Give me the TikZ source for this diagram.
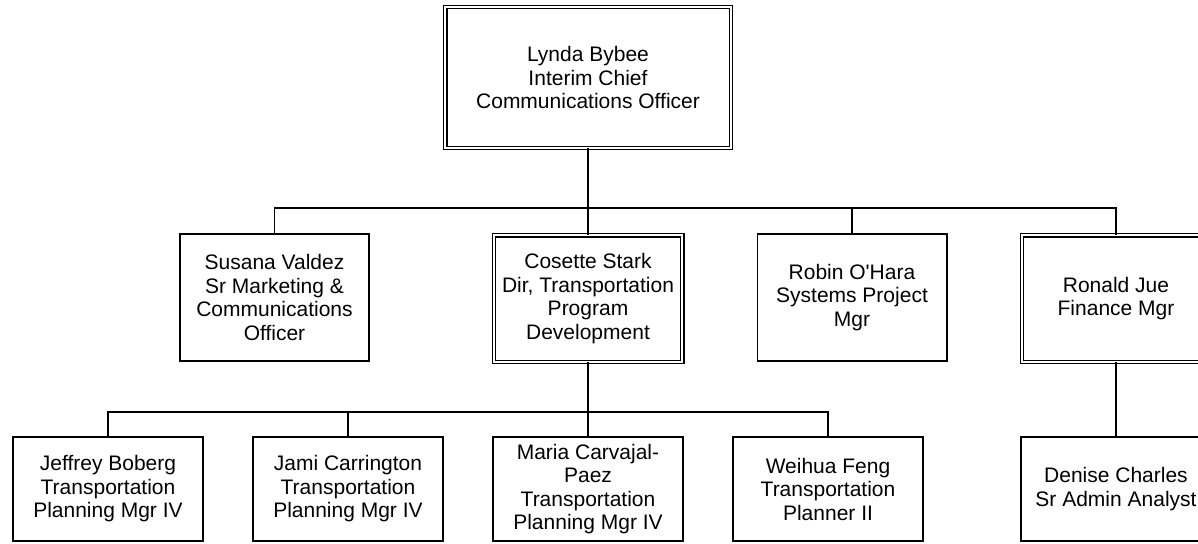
\documentclass[tikz,border=0pt]{standalone}
\usepackage{fontspec}
\setmainfont{Liberation Sans}
\usetikzlibrary{positioning}

\begin{document}
\begin{tikzpicture}[
x=1pt, y=-1pt,
node distance=48pt,
person/.style={draw, line width=1.8pt, align=center, inner sep=0pt, minimum width=189.2pt, minimum height=127.2pt, font=\fontsize{21}{23.5}\selectfont},
lead/.style={person, line width=1.1pt, double, double distance=2.3pt, minimum width=188.5pt, minimum height=126.5pt},
staff/.style={person, minimum width=190.2pt, minimum height=104.2pt},
link/.style={line width=1.8pt}
]
\useasboundingbox (0,0) rectangle (1198,543);

\node[lead, minimum width=285.5pt, minimum height=140.5pt] (lynda) at (588,77.5) {Lynda Bybee\\Interim Chief\\Communications Officer};

\node[person] (susana) at (274.5,297.5) {Susana Valdez\\Sr Marketing \&\\Communications\\Officer};
\node[lead] (cosette) at (588,298.5) {Cosette Stark\\Dir, Transportation\\Program\\Development};
\node[person] (robin) at (852,297.5) {Robin O\textquotesingle Hara\\Systems Project\\Mgr};
\node[lead] (ronald) at (1116,298.5) {Ronald Jue\\Finance Mgr};

\node[staff] (jeffrey) at (108,489) {Jeffrey Boberg\\Transportation\\Planning Mgr IV};
\node[staff, right=of jeffrey] (jami) {Jami Carrington\\Transportation\\Planning Mgr IV};
\node[staff, right=of jami] (maria) {Maria Carvajal-\\Paez\\Transportation\\Planning Mgr IV};
\node[staff, right=of maria] (weihua) {Weihua Feng\\Transportation\\Planner II};
\node[staff] (denise) at (1116,489) {Denise Charles\\Sr Admin Analyst};

\coordinate (bus) at (588,208);
\coordinate (subbus) at (588,412);

\draw[link] (lynda.south) -- (bus);
\draw[link] (susana.north) |- (bus) -| (ronald.north);
\draw[link] (cosette.north) -- (cosette.north |- bus);
\draw[link] (robin.north) -- (robin.north |- bus);

\draw[link] (cosette.south) -- (subbus);
\draw[link] (jeffrey.north) |- (subbus) -| (weihua.north);
\draw[link] (jami.north) -- (jami.north |- subbus);
\draw[link] (maria.north) -- (maria.north |- subbus);

\draw[link] (ronald.south) -- (denise.north);
\end{tikzpicture}
\end{document}
